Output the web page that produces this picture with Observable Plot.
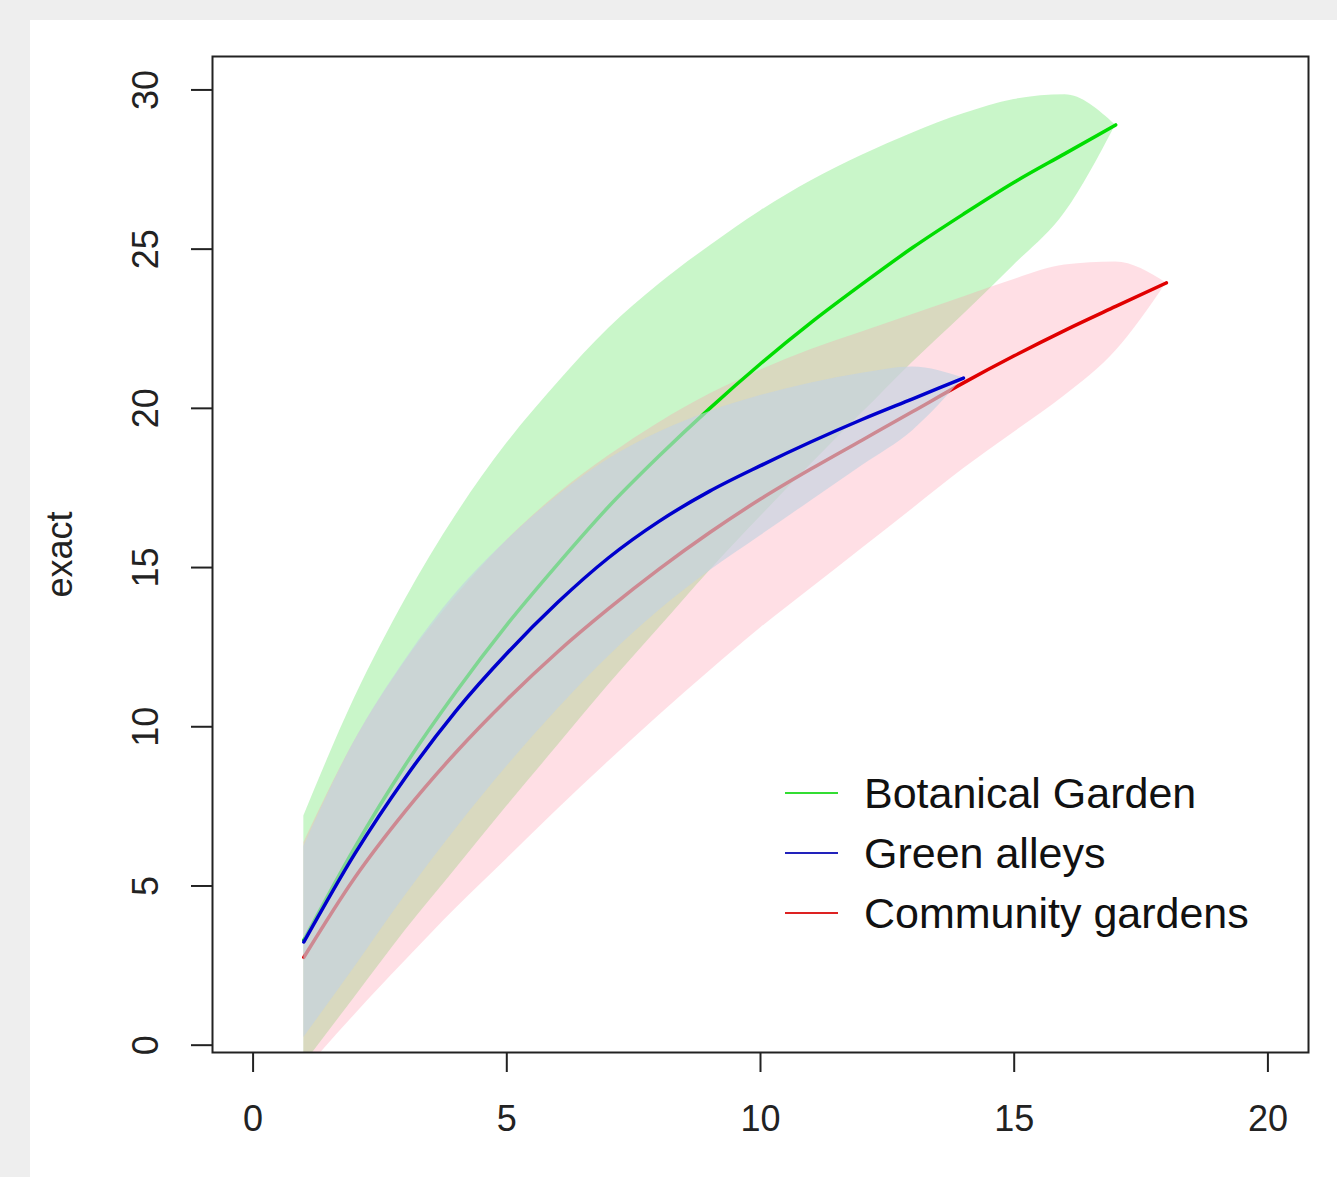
<!DOCTYPE html>
<html>
<head>
<meta charset="utf-8">
<script src="https://cdn.jsdelivr.net/npm/d3@7"></script>
<script src="https://cdn.jsdelivr.net/npm/@observablehq/plot@0.6"></script>
<style>
  html, body { margin: 0; padding: 0; background: #eeeeee; }
  body { width: 1337px; height: 1177px; position: relative; overflow: hidden; font-family: "Liberation Sans", Arial, sans-serif; }
  #panel { position: absolute; left: 30px; top: 20px; width: 1307px; height: 1157px; background: #ffffff; }
  #chart { position: absolute; left: 0; top: 0; }
  .leg { position: absolute; left: 755px; top: 740px; }
  .leg-row { position: absolute; left: 0; height: 60px; width: 520px; }
  .leg-line { position: absolute; left: 0; top: 29px; width: 53px; height: 2px; }
  .leg-text { position: absolute; left: 79px; top: 0; font-size: 43px; line-height: 60px; color: #111; white-space: nowrap; }
</style>
</head>
<body>
<div id="panel"><div id="chart"></div><div class="leg" id="legend"></div></div>
<script>
// ---- data ----
const botanicalSites = [1,2,3,4,5,6,7,8,9,10,11,12,13,14,15,16,17];
const botanicalMean  = [3.3,6.2,8.8,11.1,13.2,15.1,16.9,18.5,20.0,21.4,22.7,23.9,25.05,26.1,27.1,28.0,28.9];
const botanicalUpper = [7.2,10.9,14.0,16.65,18.9,20.8,22.5,23.9,25.1,26.2,27.15,27.95,28.65,29.25,29.7,29.85,28.9];
const botanicalLower = [-0.6,1.5,3.6,5.55,7.5,9.4,11.3,13.1,14.9,16.6,18.25,19.85,21.45,22.95,24.5,26.15,28.9];

const alleySites = [1,2,3,4,5,6,7,8,9,10,11,12,13,14];
const alleyMean  = [3.24,6.0,8.4,10.5,12.3,13.9,15.3,16.45,17.4,18.2,18.95,19.65,20.3,20.95];
const alleyUpper = [6.24,9.55,12.1,14.2,15.85,17.25,18.4,19.25,19.9,20.4,20.8,21.1,21.3,20.95];
const alleyLower = [0.24,2.45,4.7,6.8,8.75,10.55,12.2,13.65,14.9,16.0,17.1,18.2,19.3,20.95];

const communitySites = [1,2,3,4,5,6,7,8,9,10,11,12,13,14,15,16,17,18];
const communityMean  = [2.76,5.25,7.35,9.2,10.85,12.35,13.7,14.95,16.1,17.15,18.1,19.0,19.9,20.8,21.65,22.45,23.2,23.94];
const communityUpper = [6.36,9.55,12.05,14.1,15.85,17.3,18.5,19.55,20.45,21.2,21.85,22.4,22.95,23.5,24.05,24.5,24.6,23.94];
const communityLower = [-0.84,0.95,2.65,4.3,5.85,7.4,8.9,10.35,11.75,13.1,14.35,15.6,16.85,18.1,19.25,20.4,21.8,23.94];

const seriesNames = ["Botanical Garden", "Green alleys", "Community gardens"];
const xTicks = [0, 5, 10, 15, 20];
const yTicks = [0, 5, 10, 15, 20, 25, 30];
const yLabel = "exact";

// ---- build tables ----
const toRows = (sites, mean, lo, hi) => sites.map((s, i) => ({site: s, mean: mean[i], lo: lo[i], hi: hi[i]}));
const bot = toRows(botanicalSites, botanicalMean, botanicalLower, botanicalUpper);
const ali = toRows(alleySites, alleyMean, alleyLower, alleyUpper);
const com = toRows(communitySites, communityMean, communityLower, communityUpper);

const lineColors = {bot: "#00dd00", ali: "#0000cc", com: "#e00000"};
const fillColors = {bot: "rgb(100,230,100)", com: "rgb(255,150,170)", ali: "rgb(195,210,225)"};
const crv = "monotone-x";

const fs = 36;
const plot = Plot.plot({
  width: 1307,
  height: 1157,
  marginLeft: 182,
  marginRight: 29,
  marginTop: 36,
  marginBottom: 125,
  style: {fontFamily: "'Liberation Sans', Arial, sans-serif", background: "transparent", color: "#222"},
  x: {domain: [-0.8, 20.8]},
  y: {domain: [-0.23, 31.05]},
  marks: [
    Plot.areaY(bot, {x: "site", y1: "lo", y2: "hi", fill: fillColors.bot, fillOpacity: 0.35, curve: crv, clip: true}),
    Plot.areaY(com, {x: "site", y1: "lo", y2: "hi", fill: fillColors.com, fillOpacity: 0.3, curve: crv, clip: true}),
    Plot.line(bot, {x: "site", y: "mean", stroke: lineColors.bot, strokeWidth: 3.5, curve: crv, clip: true}),
    Plot.line(com, {x: "site", y: "mean", stroke: lineColors.com, strokeWidth: 3.5, curve: crv, clip: true}),
    Plot.areaY(ali, {x: "site", y1: "lo", y2: "hi", fill: fillColors.ali, fillOpacity: 0.65, curve: crv, clip: true}),
    Plot.line(ali, {x: "site", y: "mean", stroke: lineColors.ali, strokeWidth: 3.5, curve: crv, clip: true}),
    Plot.frame({stroke: "#222", strokeWidth: 2}),
    Plot.axisX({ticks: xTicks, tickSize: 20, tickPadding: 33, fontSize: fs, label: null, stroke: "#222", strokeWidth: 2}),
    Plot.axisY({ticks: yTicks, tickSize: 21, tickFormat: () => "", label: null, stroke: "#222", strokeWidth: 2}),
    Plot.text(yTicks, {y: d => d, text: d => String(d), frameAnchor: "left", textAnchor: "middle", dx: -66, rotate: -90, fontSize: fs, fill: "#222"}),
    Plot.text([yLabel], {text: d => d, frameAnchor: "left", textAnchor: "middle", dx: -152, rotate: -90, fontSize: fs, fill: "#222"})
  ]
});
document.getElementById("chart").appendChild(plot);

// ---- legend ----
const legendColors = ["#33dd33", "#2222bb", "#dd2222"];
const legend = document.getElementById("legend");
seriesNames.forEach((name, i) => {
  const row = document.createElement("div");
  row.className = "leg-row";
  row.style.top = (i * 60 + 3) + "px";
  const ln = document.createElement("div");
  ln.className = "leg-line";
  ln.style.background = legendColors[i];
  const tx = document.createElement("div");
  tx.className = "leg-text";
  tx.textContent = name;
  row.appendChild(ln);
  row.appendChild(tx);
  legend.appendChild(row);
});
</script>
</body>
</html>
